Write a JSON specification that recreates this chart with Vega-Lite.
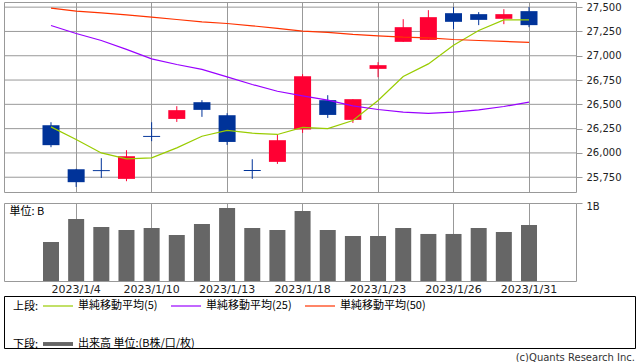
{
  "$schema": "https://vega.github.io/schema/vega-lite/v6.json",
  "padding": {"left": 3, "top": 1, "right": 0, "bottom": 0},
  "background": "white",
  "datasets": {
    "k": [
      {"date": "2022/12/30", "o": 26285, "h": 26316, "l": 26059, "c": 26080, "ma5": 26268, "ma25": 27311, "ma50": 27490, "vol": 0.50},
      {"date": "2023/1/4", "o": 25832, "h": 25836, "l": 25650, "c": 25699, "ma5": 26138, "ma25": 27229, "ma50": 27459, "vol": 0.795},
      {"date": "2023/1/5", "o": 25823, "h": 25946, "l": 25743, "c": 25813, "ma5": 26000, "ma25": 27157, "ma50": 27441, "vol": 0.692},
      {"date": "2023/1/6", "o": 25733, "h": 26028, "l": 25709, "c": 25966, "ma5": 25938, "ma25": 27065, "ma50": 27421, "vol": 0.654},
      {"date": "2023/1/10", "o": 26175, "h": 26316, "l": 26121, "c": 26165, "ma5": 25949, "ma25": 26968, "ma50": 27397, "vol": 0.679},
      {"date": "2023/1/11", "o": 26350, "h": 26481, "l": 26319, "c": 26440, "ma5": 26052, "ma25": 26910, "ma50": 27373, "vol": 0.590},
      {"date": "2023/1/12", "o": 26522, "h": 26543, "l": 26371, "c": 26443, "ma5": 26172, "ma25": 26859, "ma50": 27349, "vol": 0.731},
      {"date": "2023/1/13", "o": 26388, "h": 26409, "l": 26083, "c": 26113, "ma5": 26231, "ma25": 26783, "ma50": 27332, "vol": 0.936},
      {"date": "2023/1/16", "o": 25825, "h": 25935, "l": 25733, "c": 25815, "ma5": 26203, "ma25": 26704, "ma50": 27308, "vol": 0.679},
      {"date": "2023/1/17", "o": 25908, "h": 26186, "l": 25887, "c": 26131, "ma5": 26190, "ma25": 26635, "ma50": 27281, "vol": 0.654},
      {"date": "2023/1/18", "o": 26241, "h": 26810, "l": 26206, "c": 26790, "ma5": 26262, "ma25": 26587, "ma50": 27253, "vol": 0.897},
      {"date": "2023/1/19", "o": 26543, "h": 26594, "l": 26360, "c": 26391, "ma5": 26251, "ma25": 26543, "ma50": 27240, "vol": 0.654},
      {"date": "2023/1/20", "o": 26340, "h": 26553, "l": 26309, "c": 26553, "ma5": 26334, "ma25": 26484, "ma50": 27219, "vol": 0.577},
      {"date": "2023/1/23", "o": 26865, "h": 26934, "l": 26779, "c": 26903, "ma5": 26540, "ma25": 26447, "ma50": 27205, "vol": 0.577},
      {"date": "2023/1/24", "o": 27143, "h": 27376, "l": 27143, "c": 27294, "ma5": 26787, "ma25": 26419, "ma50": 27191, "vol": 0.679},
      {"date": "2023/1/25", "o": 27163, "h": 27469, "l": 27163, "c": 27397, "ma5": 26916, "ma25": 26406, "ma50": 27184, "vol": 0.603},
      {"date": "2023/1/26", "o": 27438, "h": 27500, "l": 27274, "c": 27349, "ma5": 27109, "ma25": 26419, "ma50": 27167, "vol": 0.603},
      {"date": "2023/1/27", "o": 27428, "h": 27449, "l": 27315, "c": 27369, "ma5": 27260, "ma25": 26443, "ma50": 27157, "vol": 0.679},
      {"date": "2023/1/30", "o": 27380, "h": 27479, "l": 27325, "c": 27428, "ma5": 27369, "ma25": 26478, "ma50": 27147, "vol": 0.628},
      {"date": "2023/1/31", "o": 27459, "h": 27500, "l": 27294, "c": 27315, "ma5": 27369, "ma25": 26522, "ma50": 27137, "vol": 0.718}
    ],
    "grid": [
      {"p": 25750}, {"p": 26000}, {"p": 26250}, {"p": 26500}, {"p": 26750}, {"p": 27000}, {"p": 27250}, {"p": 27500}
    ]
  },
  "config": {
    "view": {"stroke": "#999999", "strokeWidth": 1},
    "axis": {"labelFont": "DejaVu Sans", "labelColor": "#222222", "gridColor": "#999999", "gridWidth": 1, "gridOpacity": 1, "tickColor": "#999999", "domain": false},
    "legend": {"labelFont": "Noto Sans CJK JP", "labelFontSize": 11, "labelColor": "#000000", "titleFont": "Noto Sans CJK JP", "titleFontSize": 11, "titleFontWeight": "normal", "titleColor": "#000000"}
  },
  "spacing": 0,
  "vconcat": [
    {
      "spacing": 7,
      "vconcat": [
        {
          "width": 572,
          "height": 190,
          "resolve": {"axis": {"y": "independent"}},
          "layer": [
            {
              "data": {"name": "grid"},
              "mark": {"type": "rule", "color": "#999999", "strokeWidth": 1},
              "encoding": {
                "y": {"field": "p", "type": "quantitative", "scale": {"domain": [25598, 27553], "zero": false, "nice": false}, "axis": null}
              }
            },
            {
              "data": {"name": "k"},
              "mark": {"type": "rule", "strokeWidth": 1},
              "encoding": {
                "x": {
                  "field": "date", "type": "ordinal", "sort": null,
                  "scale": {"domain": ["", "2022/12/30","2023/1/4","2023/1/5","2023/1/6","2023/1/10","2023/1/11","2023/1/12","2023/1/13","2023/1/16","2023/1/17","2023/1/18","2023/1/19","2023/1/20","2023/1/23","2023/1/24","2023/1/25","2023/1/26","2023/1/27","2023/1/30","2023/1/31", " "], "paddingInner": 0, "paddingOuter": 0.368},
                  "axis": {"values": ["2023/1/4","2023/1/10","2023/1/13","2023/1/18","2023/1/23","2023/1/26","2023/1/31"], "labels": false, "ticks": false, "grid": true, "bandPosition": 0.5, "title": null}
                },
                "y": {"field": "l", "type": "quantitative", "axis": null},
                "y2": {"field": "h"},
                "color": {"condition": {"test": "datum.c >= datum.o", "value": "#ff0033"}, "value": "#003399"}
              }
            },
            {
              "data": {"name": "k"},
              "mark": {"type": "bar", "width": 17},
              "encoding": {
                "x": {
                  "field": "date", "type": "ordinal", "sort": null,
                  "axis": {"values": ["2023/1/4","2023/1/10","2023/1/13","2023/1/18","2023/1/23","2023/1/26","2023/1/31"], "labels": false, "ticks": false, "grid": true, "bandPosition": 0.5, "title": null}
                },
                "y": {"field": "o", "type": "quantitative",
                  "axis": {"orient": "right", "values": [25750, 26000, 26250, 26500, 26750, 27000, 27250, 27500], "format": ",.0f", "grid": false, "ticks": true, "tickSize": 6, "labelFontSize": 10, "labelPadding": 4, "title": null}},
                "y2": {"field": "c"},
                "color": {"condition": {"test": "datum.c >= datum.o", "value": "#ff0033"}, "value": "#003399"}
              }
            },
            {
              "data": {"name": "k"},
              "transform": [{"fold": ["ma5", "ma25", "ma50"], "as": ["key", "value"]}],
              "mark": {"type": "line", "strokeWidth": 1.2},
              "encoding": {
                "x": {
                  "field": "date", "type": "ordinal", "sort": null,
                  "axis": {"values": ["2023/1/4","2023/1/10","2023/1/13","2023/1/18","2023/1/23","2023/1/26","2023/1/31"], "labels": false, "ticks": false, "grid": true, "bandPosition": 0.5, "title": null}
                },
                "y": {"field": "value", "type": "quantitative", "axis": null},
                "color": {
                  "field": "key", "type": "nominal",
                  "scale": {"domain": ["ma5", "ma25", "ma50"], "range": ["#99cc00", "#9900ff", "#ff3300"]},
                  "legend": {
                    "title": "上段:", "titleOrient": "left", "titleAnchor": "middle", "titleBaseline": "top",
                    "orient": "none", "legendX": 9, "legendY": 288,
                    "direction": "horizontal", "symbolType": "stroke", "symbolSize": 900, "symbolStrokeWidth": 1.2,
                    "labelExpr": "datum.label == 'ma5' ? '単純移動平均(5)' : datum.label == 'ma25' ? '単純移動平均(25)' : '単純移動平均(50)'",
                    "columnPadding": 10, "labelOffset": 4, "titlePadding": 3
                  }
                }
              }
            }
          ]
        },
        {
          "width": 572,
          "height": 78,
          "data": {"name": "k"},
          "mark": {"type": "bar", "width": 16},
          "encoding": {
            "x": {
              "field": "date", "type": "ordinal", "sort": null,
              "scale": {"domain": ["", "2022/12/30","2023/1/4","2023/1/5","2023/1/6","2023/1/10","2023/1/11","2023/1/12","2023/1/13","2023/1/16","2023/1/17","2023/1/18","2023/1/19","2023/1/20","2023/1/23","2023/1/24","2023/1/25","2023/1/26","2023/1/27","2023/1/30","2023/1/31", " "], "paddingInner": 0, "paddingOuter": 0.368},
              "axis": {"values": ["2023/1/4","2023/1/10","2023/1/13","2023/1/18","2023/1/23","2023/1/26","2023/1/31"], "labelAngle": 0, "labelFontSize": 11, "ticks": false, "grid": true, "labelPadding": 2, "bandPosition": 0.5, "title": null}
            },
            "y": {
              "field": "vol", "type": "quantitative", "scale": {"domain": [0, 1], "nice": false},
              "axis": {"orient": "right", "values": [1], "labelExpr": "'1B'", "grid": false, "ticks": true, "tickSize": 6, "labelFontSize": 10, "labelPadding": 4, "labelOffset": 3,
                "title": "単位: B", "titleAngle": 0, "titleX": -567, "titleY": 8, "titleAlign": "left", "titleBaseline": "middle", "titleFont": "Noto Sans CJK JP", "titleFontSize": 11, "titleFontWeight": "normal", "titleColor": "#000000"}
            },
            "fill": {
              "datum": "出来高 単位:(B株/口/枚)", "type": "nominal",
              "scale": {"range": ["#666666"]},
              "legend": {"title": "下段:", "titleOrient": "left", "titleAnchor": "middle", "titleBaseline": "top", "orient": "none", "legendX": 9, "legendY": 326, "symbolType": "M-1,-0.13H1V0.13H-1Z", "symbolSize": 900, "labelOffset": 4, "titlePadding": 3}
            }
          }
        }
      ]
    },
    {
      "width": 631,
      "height": 52,
      "view": {"stroke": "#000000", "strokeWidth": 1},
      "data": {"values": []},
      "mark": {"type": "rule"},
      "encoding": {},
      "title": {"text": "(c)Quants Research Inc.", "orient": "bottom", "anchor": "end", "frame": "group", "font": "DejaVu Sans", "fontSize": 10, "fontWeight": "normal", "color": "#333333", "offset": 5}
    }
  ]
}
